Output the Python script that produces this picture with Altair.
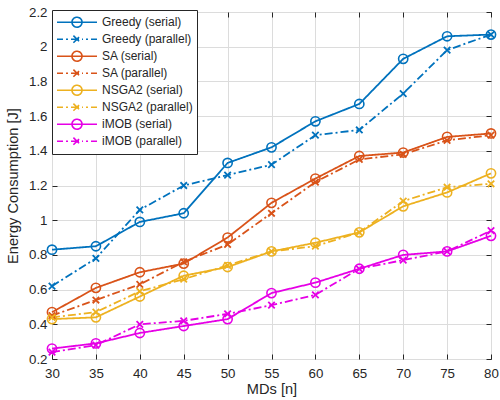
import altair as alt
import pandas as pd

# ---------------- data ----------------
mds = [30, 35, 40, 45, 50, 55, 60, 65, 70, 75, 80]
greedy_serial = [0.83, 0.85, 0.99, 1.04, 1.33, 1.42, 1.57, 1.67, 1.93, 2.06, 2.07]
greedy_parallel = [0.62, 0.78, 1.06, 1.20, 1.26, 1.32, 1.49, 1.52, 1.73, 1.98, 2.07]
sa_serial = [0.47, 0.61, 0.70, 0.75, 0.90, 1.10, 1.24, 1.37, 1.39, 1.48, 1.50]
sa_parallel = [0.45, 0.54, 0.63, 0.76, 0.86, 1.04, 1.22, 1.35, 1.38, 1.46, 1.49]
nsga_serial = [0.43, 0.44, 0.56, 0.68, 0.73, 0.82, 0.87, 0.93, 1.08, 1.16, 1.27]
nsga_parallel = [0.44, 0.47, 0.59, 0.66, 0.74, 0.82, 0.85, 0.93, 1.11, 1.19, 1.21]
imob_serial = [0.26, 0.29, 0.35, 0.39, 0.43, 0.58, 0.64, 0.72, 0.80, 0.82, 0.91]
imob_parallel = [0.24, 0.28, 0.40, 0.42, 0.46, 0.51, 0.57, 0.72, 0.77, 0.82, 0.94]

series_names = [
    "Greedy (serial)", "Greedy (parallel)",
    "SA (serial)", "SA (parallel)",
    "NSGA2 (serial)", "NSGA2 (parallel)",
    "iMOB (serial)", "iMOB (parallel)",
]
series_values = [
    greedy_serial, greedy_parallel,
    sa_serial, sa_parallel,
    nsga_serial, nsga_parallel,
    imob_serial, imob_parallel,
]
series_kind = ["serial", "parallel"] * 4
colors = ["#0072BD", "#0072BD", "#D95319", "#D95319",
          "#EDB120", "#EDB120", "#E600E6", "#E600E6"]

x_ticks = [30, 35, 40, 45, 50, 55, 60, 65, 70, 75, 80]
y_ticks = [0.2, 0.4, 0.6, 0.8, 1.0, 1.2, 1.4, 1.6, 1.8, 2.0, 2.2]

rows = []
for name, vals, kind in zip(series_names, series_values, series_kind):
    for xv, yv in zip(mds, vals):
        rows.append({"MDs": xv, "E": yv, "series": name, "kind": kind})
df = pd.DataFrame(rows)

# ---------------- styles ----------------
FONT = "Liberation Sans"
TXT = "#262626"
DASH_SOLID = [1, 0]
DASH_DOTDASH = [8, 3, 2, 3]
dashes = [DASH_SOLID if k == "serial" else DASH_DOTDASH for k in series_kind]

X_PATH = "M-1,-1L1,1M-1,1L1,-1"
LEG_SOLID_O = ("M-1,0L1,0M-0.25,0A0.25,0.25 0 1,1 0.25,0"
               "A0.25,0.25 0 1,1 -0.25,0")
LEG_DASH_X = ("M-1,0L-0.7,0M-0.55,0L-0.45,0M-0.3,0L0.3,0"
              "M0.45,0L0.55,0M0.7,0L1,0"
              "M-0.18,-0.18L0.18,0.18M-0.18,0.18L0.18,-0.18")
leg_shapes = [LEG_SOLID_O if k == "serial" else LEG_DASH_X for k in series_kind]

x_scale = alt.Scale(domain=[30, 80], nice=False, zero=False)
y_scale = alt.Scale(domain=[0.2, 2.2], nice=False, zero=False)
color_scale = alt.Scale(domain=series_names, range=colors)

axis_common = dict(
    domain=False, tickSize=5, offset=-5, tickColor=TXT, tickWidth=1,
    labelFont=FONT, labelFontSize=13.3, labelColor=TXT, labelFlush=False,
    labelOverlap=False,
    titleFont=FONT, titleFontSize=14.6, titleColor=TXT, titleFontWeight="normal",
    gridColor="#dcdcdc", gridWidth=1,
)

x_bottom = alt.X("MDs:Q", scale=x_scale, title="MDs [n]",
                 axis=alt.Axis(values=x_ticks, orient="bottom", grid=True,
                               labelPadding=7, titlePadding=2, **axis_common))
y_left = alt.Y("E:Q", scale=y_scale, title="Energy Consumption [J]",
               axis=alt.Axis(values=y_ticks, orient="left", grid=True, format="~g",
                             labelPadding=5, titlePadding=8, **axis_common))
x_top = alt.X("MDs:Q", scale=x_scale, title=None,
              axis=alt.Axis(values=x_ticks, orient="top", grid=False, labels=False,
                            **axis_common))
y_right = alt.Y("E:Q", scale=y_scale, title=None,
                axis=alt.Axis(values=y_ticks, orient="right", grid=False, labels=False,
                              **axis_common))
x_none = alt.X("MDs:Q", scale=x_scale, axis=None)
y_none = alt.Y("E:Q", scale=y_scale, axis=None)

base = alt.Chart(df)

legend_layer = base.mark_point(opacity=0, filled=False).encode(
    x=x_bottom, y=y_left,
    color=alt.Color("series:N", scale=color_scale, title=None,
                    legend=alt.Legend(
                        orient="none", legendX=0, legendY=-2,
                        fillColor="white", strokeColor=TXT,
                        padding=4, labelFont=FONT, labelFontSize=12,
                        labelColor=TXT, labelOffset=4, symbolSize=1600,
                        symbolStrokeWidth=1.6, symbolOpacity=1,
                        clipHeight=16.4, rowPadding=0, labelLimit=200)),
    shape=alt.Shape("series:N", scale=alt.Scale(domain=series_names, range=leg_shapes),
                    title=None),
)

lines = base.mark_line(strokeWidth=1.8).encode(
    x=x_top, y=y_right,
    color=alt.Color("series:N", scale=color_scale, legend=None),
    strokeDash=alt.StrokeDash("series:N",
                              scale=alt.Scale(domain=series_names, range=dashes),
                              legend=None),
    order=alt.Order("MDs:Q"),
)

serial_pts = base.transform_filter(alt.datum.kind == "serial").mark_point(
    shape="circle", filled=False, size=85, strokeWidth=1.6, opacity=1
).encode(x=x_none, y=y_none,
         color=alt.Color("series:N", scale=color_scale, legend=None))

parallel_pts = base.transform_filter(alt.datum.kind == "parallel").mark_point(
    shape=X_PATH, filled=False, size=42, strokeWidth=1.8, opacity=1
).encode(x=x_none, y=y_none,
         color=alt.Color("series:N", scale=color_scale, legend=None))

chart = alt.layer(legend_layer, lines, serial_pts, parallel_pts).resolve_axis(
    x="independent", y="independent"
).properties(
    width=439, height=347,
    padding={"left": 52, "top": 12, "right": 9, "bottom": 41},
    autosize=alt.AutoSizeParams(type="none"),
).configure_view(stroke=TXT, strokeWidth=1)

chart.save("out.html", embed_options={"renderer": "svg", "actions": False})
